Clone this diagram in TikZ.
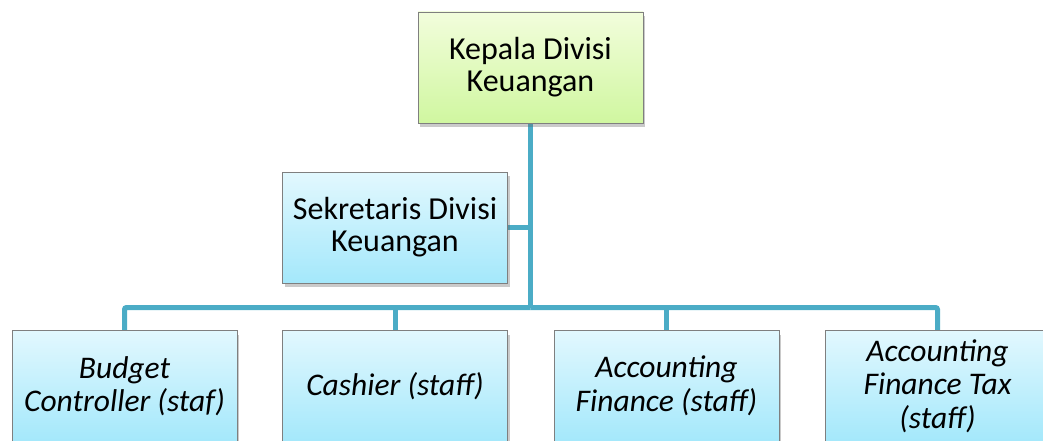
\documentclass[tikz,border=0pt]{standalone}
\usepackage{fontspec}
\setmainfont{Carlito}
\usetikzlibrary{shadows,backgrounds}
\definecolor{conn}{HTML}{4BACC6}
\definecolor{gtop}{HTML}{F2FDDC}
\definecolor{gbot}{HTML}{D0F7A0}
\definecolor{btop}{HTML}{E2F8FE}
\definecolor{bbot}{HTML}{A4E8FB}
\definecolor{bord}{HTML}{7F7F7F}
\tikzset{
  orgbox/.style={draw=bord, line width=0.8pt, minimum width=225pt, minimum height=111pt,
    inner sep=0pt, align=center, font=\fontsize{32}{32}\selectfont,
    drop shadow={shadow xshift=2pt, shadow yshift=-4pt, opacity=0.35, fill=black!60}},
  greenbox/.style={orgbox, top color=gtop, bottom color=gbot, font=\fontsize{32}{32}\selectfont},
  bluebox/.style={orgbox, top color=btop, bottom color=bbot},
  staffbox/.style={bluebox, font=\fontsize{31.5}{33.5}\selectfont\itshape},
  link/.style={draw=conn, line width=5pt, rounded corners=2pt}
}
\begin{document}
\begin{tikzpicture}[x=1pt,y=-1pt]
\useasboundingbox (0,0) rectangle (1043,441);
\node[greenbox] (head) at (530.5,67.5) {Kepala Divisi\\Keuangan};
\node[bluebox] (sec) at (395,227.5) {Sekretaris Divisi\\Keuangan};
\node[staffbox] (b1) at (124.5,386) {Budget\\Controller (staf)};
\node[staffbox] (b2) at (395,386) {Cashier (staff)};
\node[staffbox] (b3) at (666.5,386) {Accounting\\Finance (staff)};
\node[staffbox] (b4) at (937.5,386) {Accounting\\Finance Tax\\(staff)};
\coordinate (bus) at (530.5,307.5);
\begin{scope}[on background layer]
\path[link] (head.south) -- (bus);
\path[link] (sec.east) -- (sec.east -| bus);
\path[link] (b1.north) |- (bus);
\path[link] (b4.north) |- (bus);
\path[link] (b2.north) -- (b2.north |- bus);
\path[link] (b3.north) -- (b3.north |- bus);
\end{scope}
\end{tikzpicture}
\end{document}
